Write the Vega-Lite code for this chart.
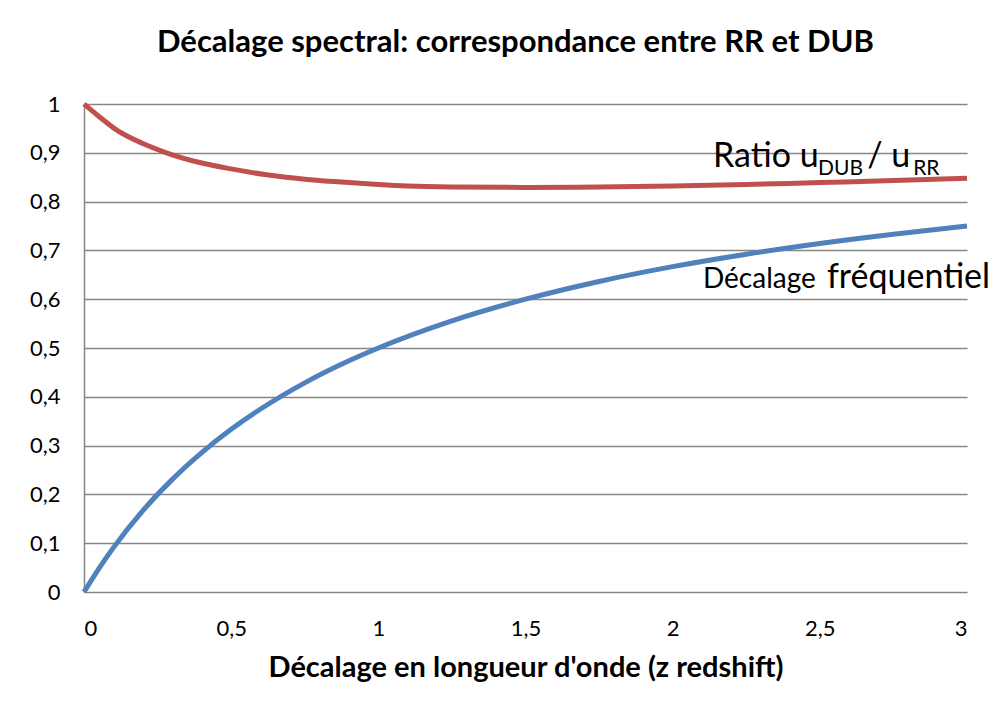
{
  "$schema": "https://vega.github.io/schema/vega-lite/v6.json",
  "autosize": {"type": "none"},
  "width": 883,
  "height": 488,
  "padding": {"left": 84, "top": 104, "right": 26, "bottom": 121},
  "background": "white",
  "config": {
    "font": "Lato",
    "view": {"stroke": null}
  },
  "title": {
    "text": "Décalage spectral: correspondance  entre RR et DUB",
    "font": "Lato",
    "fontSize": 31,
    "fontWeight": "bold",
    "color": "#000000",
    "offset": 34,
    "dx": -10
  },
  "datasets": {
    "curves": [
      {"z": 0, "serie": "Ratio", "v": 1.0},
      {"z": 0.05, "serie": "Ratio", "v": 0.975},
      {"z": 0.11, "serie": "Ratio", "v": 0.947},
      {"z": 0.2, "serie": "Ratio", "v": 0.919},
      {"z": 0.28, "serie": "Ratio", "v": 0.9},
      {"z": 0.4, "serie": "Ratio", "v": 0.879},
      {"z": 0.5, "serie": "Ratio", "v": 0.867},
      {"z": 0.62, "serie": "Ratio", "v": 0.855},
      {"z": 0.75, "serie": "Ratio", "v": 0.846},
      {"z": 0.85, "serie": "Ratio", "v": 0.841},
      {"z": 1.0, "serie": "Ratio", "v": 0.835},
      {"z": 1.1, "serie": "Ratio", "v": 0.832},
      {"z": 1.25, "serie": "Ratio", "v": 0.83},
      {"z": 1.5, "serie": "Ratio", "v": 0.829},
      {"z": 1.75, "serie": "Ratio", "v": 0.83},
      {"z": 2.0, "serie": "Ratio", "v": 0.832},
      {"z": 2.25, "serie": "Ratio", "v": 0.835},
      {"z": 2.5, "serie": "Ratio", "v": 0.839},
      {"z": 2.75, "serie": "Ratio", "v": 0.843},
      {"z": 3.0, "serie": "Ratio", "v": 0.848},
      {"z": 0, "serie": "Freq", "v": 0.0},
      {"z": 0.05, "serie": "Freq", "v": 0.0476},
      {"z": 0.1, "serie": "Freq", "v": 0.0909},
      {"z": 0.2, "serie": "Freq", "v": 0.1667},
      {"z": 0.3, "serie": "Freq", "v": 0.2308},
      {"z": 0.4, "serie": "Freq", "v": 0.2857},
      {"z": 0.5, "serie": "Freq", "v": 0.3333},
      {"z": 0.6, "serie": "Freq", "v": 0.375},
      {"z": 0.75, "serie": "Freq", "v": 0.4286},
      {"z": 0.9, "serie": "Freq", "v": 0.4737},
      {"z": 1.0, "serie": "Freq", "v": 0.5},
      {"z": 1.25, "serie": "Freq", "v": 0.5556},
      {"z": 1.5, "serie": "Freq", "v": 0.6},
      {"z": 1.75, "serie": "Freq", "v": 0.6364},
      {"z": 2.0, "serie": "Freq", "v": 0.6667},
      {"z": 2.25, "serie": "Freq", "v": 0.6923},
      {"z": 2.5, "serie": "Freq", "v": 0.7143},
      {"z": 2.75, "serie": "Freq", "v": 0.7333},
      {"z": 3.0, "serie": "Freq", "v": 0.75}
    ],
    "bigLabels": [
      {"t": "Ratio u", "z": 2.137, "v": 0.870},
      {"t": "/ u", "z": 2.661, "v": 0.870},
      {"t": "fréquentiel", "z": 2.524, "v": 0.622}
    ],
    "subLabels": [
      {"t": "DUB", "z": 2.494, "v": 0.854},
      {"t": "RR", "z": 2.817, "v": 0.854}
    ],
    "midLabels": [
      {"t": "Décalage", "z": 2.103, "v": 0.622}
    ]
  },
  "layer": [
    {
      "data": {"name": "curves"},
      "mark": {"type": "line", "strokeWidth": 5, "interpolate": "monotone", "clip": false},
      "encoding": {
        "x": {
          "field": "z", "type": "quantitative",
          "scale": {"domain": [0, 3], "nice": false, "zero": false},
          "axis": {
            "values": [0, 0.5, 1, 1.5, 2, 2.5, 3],
            "labelExpr": "replace(format(datum.value, '~g'), '.', ',')",
            "grid": false, "domain": false, "ticks": false,
            "labelFont": "Lato", "labelFontSize": 22, "labelColor": "#000000",
            "labelPadding": 26,
            "title": "Décalage en longueur d'onde (z redshift)",
            "titleFont": "Lato", "titleFontSize": 29, "titleFontWeight": "bold",
            "titleColor": "#000000", "titlePadding": 14
          }
        },
        "y": {
          "field": "v", "type": "quantitative",
          "scale": {"domain": [0, 1], "nice": false},
          "axis": {
            "values": [0, 0.1, 0.2, 0.3, 0.4, 0.5, 0.6, 0.7, 0.8, 0.9, 1],
            "labelExpr": "replace(format(datum.value, '~g'), '.', ',')",
            "grid": true, "gridColor": "#868686", "gridWidth": 1.5,
            "domain": true, "domainColor": "#868686", "domainWidth": 1.5,
            "ticks": false,
            "labelFont": "Lato", "labelFontSize": 22, "labelColor": "#000000",
            "labelPadding": 24,
            "title": null
          }
        },
        "color": {
          "field": "serie", "type": "nominal",
          "scale": {"domain": ["Ratio", "Freq"], "range": ["#C0504D", "#4F81BD"]},
          "legend": null
        }
      }
    },
    {
      "data": {"name": "bigLabels"},
      "mark": {"type": "text", "font": "Lato", "fontSize": 34, "align": "left", "baseline": "alphabetic", "color": "#000000"},
      "encoding": {
        "x": {"field": "z", "type": "quantitative"},
        "y": {"field": "v", "type": "quantitative"},
        "text": {"field": "t"}
      }
    },
    {
      "data": {"name": "subLabels"},
      "mark": {"type": "text", "font": "Lato", "fontSize": 21, "align": "left", "baseline": "alphabetic", "color": "#000000"},
      "encoding": {
        "x": {"field": "z", "type": "quantitative"},
        "y": {"field": "v", "type": "quantitative"},
        "text": {"field": "t"}
      }
    },
    {
      "data": {"name": "midLabels"},
      "mark": {"type": "text", "font": "Lato", "fontSize": 28, "align": "left", "baseline": "alphabetic", "color": "#000000"},
      "encoding": {
        "x": {"field": "z", "type": "quantitative"},
        "y": {"field": "v", "type": "quantitative"},
        "text": {"field": "t"}
      }
    }
  ]
}
